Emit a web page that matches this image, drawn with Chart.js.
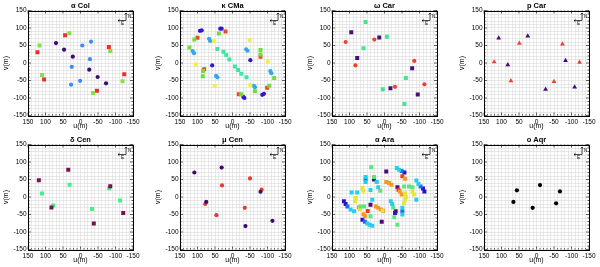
<!DOCTYPE html>
<html>
<head>
<meta charset="utf-8">
<script src="https://cdn.jsdelivr.net/npm/chart.js@4/dist/chart.umd.min.js"></script>
<style>
html, body { margin: 0; padding: 0; background: #fff; overflow: hidden; }
#wrap { position: relative; width: 600px; height: 267px; overflow: hidden; }
.cell { position: absolute; width: 152px; height: 134px; }
</style>
</head>
<body>
<div id="wrap"></div>
<script>
var FONT = "'Liberation Sans', Arial, sans-serif";
var AXIS_MIN = -150;
var AXIS_MAX = 150;
var MAJOR_TICKS = [150, 100, 50, 0, -50, -100, -150];

// alpha Col
var colRed = [[44, 79], [123, 31], [-81, 46], [104, -47], [-47, -79], [-125, -32]];
var colGreen = [[32, 85], [117, 50], [-85, 34], [110, -34], [-36, -86], [-120, -52]];
var colPurple = [[70, 57], [47, 38], [22, 18], [-25, -19], [-49, -40], [-73, -58]];
var colBlue = [[-5, 50], [-30, 61], [-27, 11], [25, -11], [1, -51], [27, -62]];

// kappa CMa
var kcmaBlue = [[35, 98], [31, 98], [93, 92], [88, 93], [58, -7], [-51, 8], [-31, -97], [-34, -100], [-85, -91], [-90, -88]];
var kcmaSky = [[67, 69], [64, 63], [114, 34], [110, 28], [47, -37], [43, -41], [-39, 39], [-43, 35], [-108, -23], [-111, -29], [-61, -65], [-64, -69]];
var kcmaTeal = [[43, 40], [26, 32], [18, 23], [9, 10], [-7, -10], [-16, -20], [-25, -31], [-40, -41]];
var kcmaGreen = [[39, 84], [109, 67], [123, 44], [84, -23], [85, -38], [-80, 37], [-80, 24], [-119, -43], [-105, -65], [-64, -81], [-25, -89]];
var kcmaYellow = [[53, 62], [105, -4], [51, -66], [-49, 66], [-101, 4], [-51, -63]];
var kcmaRed = [[20, 90], [100, 72], [81, -18], [-80, 18], [-99, -71], [-18, -89]];

// omega Car
var wcarGreen = [[54, 117], [-7, 75], [60, 42], [-61, -43], [5, -75], [-57, -117]];
var wcarRed = [[111, 60], [29, 67], [83, -7], [-85, 6], [-30, -68], [-114, -61]];
var wcarPurple = [[95, 88], [15, 73], [78, 14], [-79, -15], [-17, -72], [-95, -90]];

// p Car
var pcarPurple = [[108, 71], [25, 77], [82, -5], [-83, 7], [-26, -75], [-109, -69]];
var pcarRed = [[49, 56], [121, 3], [73, -51], [-74, 54], [-123, 2], [-50, -53]];

// delta Cen
var dcenMaroon = [[119, 48], [35, 78], [83, -30], [-85, 31], [-38, -76], [-122, -46]];
var dcenGreen = [[110, 10], [31, 35], [78, -24], [-82, 25], [-33, -34], [-113, -10]];

// mu Cen
var mcenPurple = [[109, 70], [31, 84], [75, -14], [-80, 15], [-37, -83], [-114, -68]];
var mcenRed = [[30, 33], [-50, 53], [78, -20], [-83, 21], [46, -52], [-35, -31]];

// alpha Ara
var araDarkBlue = [[-114, 16], [-110, 24], [116, -12], [111, -20], [-57, 70], [63, -65], [-30, -46]];
var araBlue = [[-103, 30], [106, -27], [-49, 74], [56, -71], [54, 50], [-51, -41]];
var araCyan = [[-35, 83], [-42, 78], [-91, 47], [-97, 37], [97, -36], [87, -41], [49, -76], [42, -79], [35, -82], [54, 57], [54, 43], [-51, -31], [-51, -50], [22, 43], [18, 28], [-18, -12], [-22, -20], [-91, -8], [94, 13], [78, 13], [35, -8], [40, 20]];
var araGreen = [[38, 85], [30, 57], [-56, 30], [-70, 30], [-80, 28], [-37, -79], [-28, -58], [68, -27], [58, -27], [12, 18], [40, -55], [-25, -30]];
var araYellow = [[-80, 16], [-84, 7], [-59, 11], [-61, 0], [-59, -8], [-56, -17], [63, 26], [60, 18], [82, -3], [84, -12], [5, -39], [70, -35]];
var araOrange = [[-5, 43], [-13, 40], [-20, 35], [-59, 52], [-44, 16], [-49, 7], [60, -49], [56, -55], [73, -30], [25, -27], [18, -31], [11, -36]];
var araRed = [[-51, 59], [-40, 21], [4, -39], [48, -40]];
var araPurple = [[-5, 73], [30, 50], [-37, 28], [40, -22], [-32, -41], [8, -71]];

// o Aqr
var oaqrBlack = [[56, 19], [-10, 34], [66, -14], [-67, 16], [11, -31], [-56, -18]];

var panels = [
  { title: 'α Col', series: [
    { pts: colPurple, color: '#3c0c6e', shape: 'circle' },
    { pts: colBlue, color: '#3a8ef0', shape: 'circle' },
    { pts: colGreen, color: '#86e040', shape: 'rect' },
    { pts: colRed, color: '#e83028', shape: 'rect' }
  ] },
  { title: 'κ CMa', series: [
    { pts: kcmaTeal, color: '#40e6a0', shape: 'rect' },
    { pts: kcmaGreen, color: '#6ede3c', shape: 'rect' },
    { pts: kcmaYellow, color: '#f2f040', shape: 'rect' },
    { pts: kcmaRed, color: '#ea4a22', shape: 'rect' },
    { pts: kcmaSky, color: '#30a8f0', shape: 'circle' },
    { pts: kcmaBlue, color: '#3814cc', shape: 'circle' }
  ] },
  { title: 'ω Car', series: [
    { pts: wcarGreen, color: '#44e68c', shape: 'rect' },
    { pts: wcarRed, color: '#e84430', shape: 'circle' },
    { pts: wcarPurple, color: '#46107a', shape: 'rect' }
  ] },
  { title: 'p Car', series: [
    { pts: pcarPurple, color: '#440c7a', shape: 'triangle' },
    { pts: pcarRed, color: '#e8403a', shape: 'triangle' }
  ] },
  { title: 'δ Cen', series: [
    { pts: dcenMaroon, color: '#7a1050', shape: 'rect' },
    { pts: dcenGreen, color: '#44ee88', shape: 'rect' }
  ] },
  { title: 'μ Cen', series: [
    { pts: mcenPurple, color: '#3c0c6e', shape: 'circle' },
    { pts: mcenRed, color: '#e43a30', shape: 'circle' }
  ] },
  { title: 'α Ara', series: [
    { pts: araCyan, color: '#22cff0', shape: 'rect' },
    { pts: araGreen, color: '#5ae67a', shape: 'rect' },
    { pts: araYellow, color: '#e8e634', shape: 'rect' },
    { pts: araOrange, color: '#f59a20', shape: 'rect' },
    { pts: araRed, color: '#f03c16', shape: 'rect' },
    { pts: araBlue, color: '#2066f0', shape: 'rect' },
    { pts: araDarkBlue, color: '#2a12c8', shape: 'rect' },
    { pts: araPurple, color: '#4c0878', shape: 'rect' }
  ] },
  { title: 'o Aqr', series: [
    { pts: oaqrBlack, color: '#000000', shape: 'circle' }
  ] }
];

// box around the plot area, inward ticks, and the small N/E compass
var framePlugin = {
  id: 'frame',
  afterDraw: function(chart) {
    var ctx = chart.ctx;
    var a = chart.chartArea;
    var sx = chart.scales.x, sy = chart.scales.y;
    ctx.save();
    ctx.strokeStyle = '#000';
    ctx.lineWidth = 1;
    ctx.strokeRect(Math.round(a.left) + 0.5, Math.round(a.top) + 0.5, Math.round(a.right - a.left), Math.round(a.bottom - a.top));

    ctx.lineWidth = 0.6;
    ctx.beginPath();
    for (var v = AXIS_MIN; v <= AXIS_MAX; v += 10) {
      var len = v % 50 === 0 ? 3 : 1.5;
      var px = sx.getPixelForValue(v);
      ctx.moveTo(px, a.bottom); ctx.lineTo(px, a.bottom - len);
      ctx.moveTo(px, a.top); ctx.lineTo(px, a.top + len);
      var py = sy.getPixelForValue(v);
      ctx.moveTo(a.left, py); ctx.lineTo(a.left + len, py);
      ctx.moveTo(a.right, py); ctx.lineTo(a.right - len, py);
    }
    ctx.stroke();

    var ox = a.right - 7, oy = a.top + 10;
    ctx.lineWidth = 0.7;
    ctx.beginPath();
    ctx.moveTo(ox, oy); ctx.lineTo(ox, a.top + 2.5);
    ctx.moveTo(ox, oy); ctx.lineTo(a.right - 15, oy);
    ctx.moveTo(ox - 1.2, a.top + 4); ctx.lineTo(ox, a.top + 2.5); ctx.lineTo(ox + 1.2, a.top + 4);
    ctx.moveTo(a.right - 13.5, oy - 1.2); ctx.lineTo(a.right - 15, oy); ctx.lineTo(a.right - 13.5, oy + 1.2);
    ctx.stroke();
    ctx.fillStyle = '#000';
    ctx.font = '4.5px ' + FONT;
    ctx.textAlign = 'center';
    ctx.textBaseline = 'middle';
    ctx.fillText('N', a.right - 3.5, a.top + 6);
    ctx.fillText('E', a.right - 10.5, a.top + 13.5);
    ctx.restore();
  }
};

function axisOptions(isX) {
  return {
    type: 'linear',
    min: AXIS_MIN,
    max: AXIS_MAX,
    reverse: isX,
    afterFit: function(s) {
      if (isX) s.height = 18.5; else s.width = 28;
    },
    ticks: {
      stepSize: 10,
      autoSkip: false,
      maxRotation: 0,
      minRotation: 0,
      padding: isX ? 2.5 : 1.5,
      color: '#000',
      font: { family: FONT, size: 6.5 },
      callback: function(v) {
        return MAJOR_TICKS.indexOf(v) >= 0 ? String(v) : '';
      }
    },
    grid: { color: '#dadada', lineWidth: 0.6, drawTicks: false, tickLength: 0 },
    border: { display: false },
    title: {
      display: true,
      text: isX ? 'u(m)' : 'v(m)',
      color: '#000',
      font: { family: FONT, size: 7 },
      padding: isX ? { top: 0, bottom: 3.6 } : { top: 1.6, bottom: 0 }
    }
  };
}

var wrap = document.getElementById('wrap');
panels.forEach(function(p, i) {
  var div = document.createElement('div');
  div.className = 'cell';
  div.style.left = (152 * (i % 4)) + 'px';
  div.style.top = (134 * Math.floor(i / 4)) + 'px';
  var canvas = document.createElement('canvas');
  canvas.width = 152;
  canvas.height = 134;
  div.appendChild(canvas);
  wrap.appendChild(div);

  new Chart(canvas, {
    type: 'scatter',
    data: {
      datasets: p.series.map(function(s) {
        return {
          data: s.pts.map(function(pt) { return { x: pt[0], y: pt[1] }; }),
          backgroundColor: s.color,
          borderColor: s.color,
          borderWidth: 0,
          pointStyle: s.shape,
          pointRadius: s.shape === 'circle' ? 2.1 : 2.8
        };
      })
    },
    options: {
      responsive: false,
      animation: false,
      events: [],
      layout: { padding: { top: 0, right: 19, bottom: 0, left: 0 } },
      plugins: {
        legend: { display: false },
        tooltip: { enabled: false },
        title: {
          display: true,
          text: p.title,
          fullSize: false,
          color: '#000',
          font: { family: FONT, size: 7.5, weight: 'bold' },
          padding: { top: 1, bottom: 0.5 }
        }
      },
      scales: {
        x: axisOptions(true),
        y: axisOptions(false)
      }
    },
    plugins: [framePlugin]
  });
});
</script>
</body>
</html>
